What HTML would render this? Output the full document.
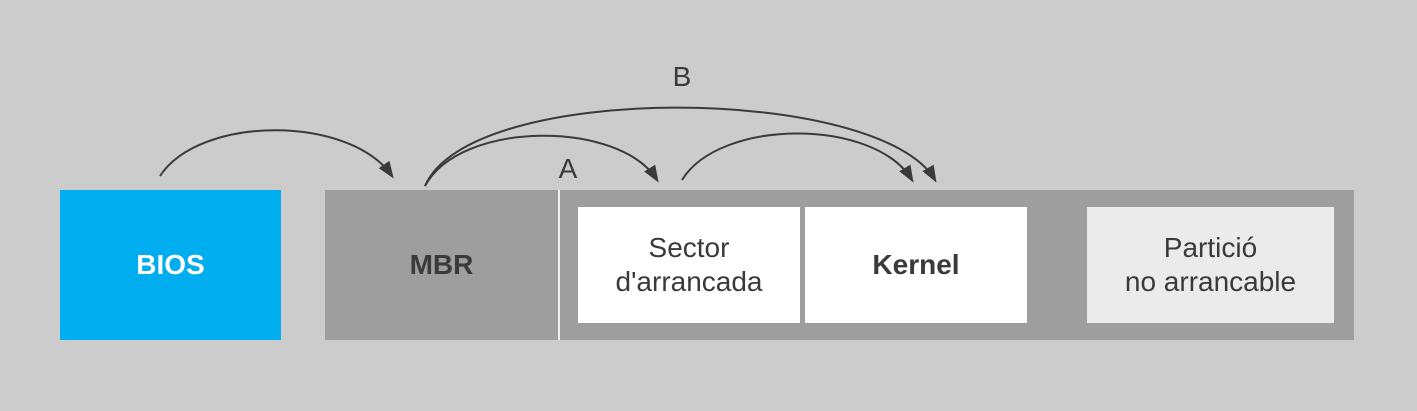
<!DOCTYPE html>
<html><head><style>
body{margin:0;width:1417px;height:411px;background:#cccccc;overflow:hidden;font-family:"Liberation Sans",Arial,sans-serif;}
.b{position:absolute;display:flex;align-items:center;justify-content:center;text-align:center;font-size:28px;color:#3a3a3a;line-height:34px;}
</style></head><body>
<div class="b" style="left:60px;top:190px;width:221px;height:150px;background:#00adef;color:#fff;font-weight:bold;">BIOS</div>
<div style="position:absolute;left:325px;top:190px;width:1029px;height:150px;background:#9e9e9e;"></div>
<div style="position:absolute;left:558px;top:190px;width:2px;height:150px;background:#f0f0f0;"></div>
<div class="b" style="left:325px;top:190px;width:233px;height:150px;font-weight:bold;">MBR</div>
<div class="b" style="left:578px;top:207px;width:222px;height:116px;background:#fff;">Sector<br>d'arrancada</div>
<div class="b" style="left:805px;top:207px;width:222px;height:116px;background:#fff;font-weight:bold;">Kernel</div>
<div class="b" style="left:1087px;top:207px;width:247px;height:116px;background:#ebebeb;">Partició<br>no arrancable</div>
<svg style="position:absolute;left:0;top:0" width="1417" height="411">
<defs><marker id="a" markerWidth="20" markerHeight="14" refX="14" refY="6.5" orient="auto" markerUnits="userSpaceOnUse"><path d="M0,0 L17,6.5 L0,13 Z" fill="#3a3a3a"/></marker></defs>
<g fill="none" stroke="#3a3a3a" stroke-width="2">
<path d="M160,176 C200,115 350,115 392,176" marker-end="url(#a)"/>
<path d="M425,186 C460,120 620,120 657,180" marker-end="url(#a)"/>
<path d="M425,186 C470,80 880,85 935,180" marker-end="url(#a)"/>
<path d="M682,180 C720,118 875,118 912,180" marker-end="url(#a)"/>
</g>
<text x="568" y="178" font-size="28" fill="#3a3a3a" text-anchor="middle" font-family="Liberation Sans, sans-serif">A</text>
<text x="682" y="86" font-size="28" fill="#3a3a3a" text-anchor="middle" font-family="Liberation Sans, sans-serif">B</text>
</svg>
</body></html>
